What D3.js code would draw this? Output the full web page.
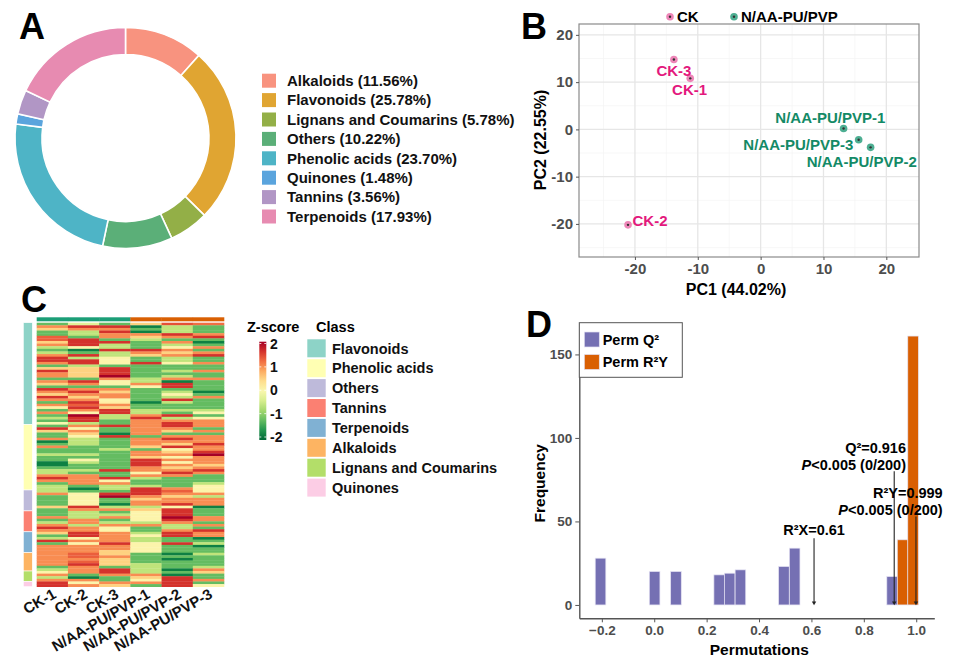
<!DOCTYPE html>
<html><head><meta charset="utf-8">
<script src="https://cdn.jsdelivr.net/npm/d3@7"></script>
<style>
body{margin:0;background:#fff;}
svg text{font-family:"Liberation Sans",Arial,Helvetica,sans-serif;font-weight:bold;}
</style></head><body>
<svg id="fig" width="955" height="667"></svg>
<script>
// ---------- Panel A data ----------
const compClasses = ["Alkaloids","Flavonoids","Lignans and Coumarins","Others","Phenolic acids","Quinones","Tannins","Terpenoids"];
const compPercent = [11.56,25.78,5.78,10.22,23.70,1.48,3.56,17.93];
const compColors = ["#F8937F","#E0A532","#93AF47","#5BAF78","#4EB4C6","#5AA4DD","#B196C5","#E78BB1"];

// ---------- Panel B data ----------
const pcaSamples = ["CK-1","CK-2","CK-3","N/AA-PU/PVP-1","N/AA-PU/PVP-2","N/AA-PU/PVP-3"];
const pcaGroup = ["CK","CK","CK","N/AA-PU/PVP","N/AA-PU/PVP","N/AA-PU/PVP"];
const pc1 = [-11.2,-21.1,-13.8,13.2,17.5,15.6];
const pc2 = [10.8,-20.2,14.8,0.2,-3.8,-2.2];
const labelPc1 = [-11.3,-17.6,-13.8,11.1,16.1,6.0];
const labelPc2 = [8.5,-19.3,12.4,2.5,-6.8,-3.3];
const pcaTicks = [-20,-10,0,10,20];
const pcaMinor = [-25,-15,-5,5,15];
const groupNames = ["CK","N/AA-PU/PVP"];
const groupText = ["#E3187D","#138A66"];
const groupFill = ["#EE86B8","#4DAE92"];

// ---------- Panel C data ----------
const hmClasses = ["Flavonoids","Phenolic acids","Others","Tannins","Terpenoids","Alkaloids","Lignans and Coumarins","Quinones"];
const hmClassColors = ["#8DD3C7","#FFFFB3","#BEBADA","#FB8072","#80B1D3","#FDB462","#B3DE69","#FCCDE5"];
const hmGroupColors = ["#1B9E77","#D95F02"];
const zTicks = [2,1,0,-1,-2];
const zFlavonoids = [
[-1.2,-0.3,-1.2,0.5,1.4,1.2],[1.0,1.6,1.6,-1.8,-0.6,-1.2],[0.5,1.0,1.0,-1.2,-0.6,-1.2],[-1.2,-0.6,1.6,-1.8,-0.6,-1.2],
[-1.2,-0.6,1.0,1.0,1.6,1.0],[1.3,-1.2,1.0,0.5,1.0,1.6],[1.3,1.6,-1.2,-0.6,-1.2,-1.2],[0.5,1.6,1.6,-1.2,1.0,-1.8],
[1.0,1.6,-0.6,-1.2,-0.6,-1.2],[-0.6,0.1,-0.6,-1.2,0.1,1.0],[-1.2,-1.8,1.6,1.6,1.0,-1.2],[-0.6,-1.2,-0.6,1.0,0.5,1.0],
[1.0,1.6,-0.6,0.5,1.0,1.6],[1.6,-0.6,0.1,-1.2,-0.6,-1.2],[1.6,1.6,0.1,-1.2,-0.6,-1.2],[1.0,1.6,0.1,1.6,0.1,1.0],
[-1.2,-0.6,-1.2,-1.2,-1.2,-1.2],[0.5,0.5,1.6,-1.2,-1.2,-1.2],[1.6,0.5,1.6,-1.2,-0.6,1.0],[1.0,0.5,1.6,-1.2,-1.2,-1.2],
[1.0,0.5,2.0,-1.2,-0.6,-1.2],[-1.2,-1.2,1.0,-0.6,1.0,1.0],[1.0,1.6,0.1,-0.6,-1.8,-1.2],[0.5,1.0,0.1,1.0,1.6,-1.2],
[-1.2,-1.2,-1.2,0.1,1.6,-1.2],[1.6,1.0,1.0,-1.2,-1.2,-1.2],[1.0,1.6,0.5,-1.2,-0.6,-1.8],[0.5,1.0,1.0,-1.2,0.1,-1.2],
[1.6,0.5,1.0,-1.2,-0.6,1.0],[1.0,1.0,0.1,-1.2,1.6,-1.2],[-1.2,1.6,0.2,-1.8,-0.6,-1.2],[1.0,1.3,1.0,-1.2,-1.2,-1.2],
[0.2,1.6,0.5,-1.2,-1.2,-1.2],[-1.2,1.0,1.6,-0.6,-0.6,-0.6],[1.0,0.1,1.6,-0.6,-1.2,0.1],[-1.2,2.0,-0.6,1.0,1.6,-1.2],
[-0.6,1.6,-0.6,1.6,-0.6,0.1],[-1.2,1.6,-1.2,1.0,1.0,1.0],[0.0,-0.6,-1.2,1.0,1.6,1.0]];
const zPhenolic = [
[-1.2,1.0,1.6,1.0,1.6,1.0],[1.6,0.1,-1.2,1.0,1.0,-1.2],[0.5,1.0,-1.2,1.0,0.5,1.0],[-1.2,0.5,-1.8,1.0,-1.2,-1.2],
[-1.2,0.1,1.6,-1.2,1.0,1.0],[1.0,-0.6,-1.2,1.0,1.6,1.0],[-1.8,-0.6,-1.2,1.0,1.0,1.0],[-1.2,-0.6,-1.2,1.0,0.5,1.6],
[1.0,-1.2,-1.2,0.5,1.6,1.0],[-1.2,-1.2,-0.6,-1.2,0.1,1.0],[-1.2,-1.2,-1.2,1.0,0.5,1.6],[-0.6,-0.6,-1.2,1.0,1.0,2.0],
[-1.2,-1.2,-1.2,0.5,0.1,1.0],[-1.2,0.1,-1.2,1.6,1.0,1.0],[-1.8,-0.6,-1.2,1.6,0.1,1.0],[-1.8,-1.2,-1.2,1.6,1.0,0.5],
[-1.2,-1.2,-1.2,1.0,0.5,1.0],[-0.6,-0.6,1.6,1.0,1.0,1.6],[-0.6,-1.2,-1.2,0.1,1.6,1.0],[1.0,1.0,-1.2,1.0,1.0,-1.2],
[1.6,1.0,1.6,-0.6,-1.2,-1.2],[1.0,1.0,0.1,-1.2,-1.2,-1.2],[-1.2,1.0,1.0,-1.2,-1.2,-0.6],[-0.6,-1.2,-0.6,-0.6,-1.2,0.1],
[-0.6,-1.8,-0.6,1.6,1.0,0.1]];
const zOthers = [
[-0.6,-1.2,-1.2,1.6,1.3,0.1],[1.0,0.1,1.6,1.6,1.0,1.0],[-1.2,0.1,2.0,1.0,0.5,-0.6],[-1.2,0.1,-1.2,0.5,1.0,1.0],
[-1.2,0.1,-1.2,1.0,1.0,1.0],[-1.2,0.1,-1.8,1.0,1.6,1.0],[0.5,1.6,-0.6,-0.6,0.1,-1.8],[-1.2,1.0,1.0,0.5,1.6,-1.2]];
const zTannins = [
[-1.2,-0.6,-1.2,0.1,1.6,-1.2],[-1.2,-0.6,-0.6,0.1,1.6,-1.2],[1.0,-0.6,1.0,0.1,2.0,1.0],[-1.2,1.0,-1.2,0.1,1.6,1.0],
[-0.6,1.0,-0.6,-0.6,1.0,-1.2],[1.0,-0.6,1.0,1.0,-0.6,1.0],[1.6,1.0,0.1,-1.2,-0.6,-1.2],[1.0,1.0,0.1,-1.2,1.0,1.6]];
const zTerpenoids = [
[0.5,1.6,1.0,-0.6,1.6,1.0],[-1.2,1.6,1.0,0.1,1.6,1.0],[-0.6,0.1,1.0,-0.6,-1.2,-1.8],[1.6,1.0,1.0,-0.6,-1.2,-1.2],
[-1.2,0.1,1.6,0.1,1.6,-0.6],[1.0,1.0,1.0,0.1,-1.2,-1.8],[1.0,1.0,1.0,0.1,-1.2,-1.2],[1.0,1.0,0.5,0.1,-1.2,-1.2]];
const zAlkaloids = [
[1.0,1.3,0.5,-1.2,-1.8,-0.6],[1.0,1.3,1.0,-1.2,-1.2,-1.2],[1.0,1.0,0.5,-1.2,-1.8,-1.2],[1.0,1.3,0.5,-1.2,-1.2,-1.2],
[1.0,1.6,0.5,-0.6,-1.2,-1.2],[-1.2,1.0,-1.2,-0.6,-1.2,-0.6],[-0.6,1.0,1.6,-0.6,-1.8,1.0]];
const zLignans = [
[0.1,1.0,1.6,-0.6,-1.2,0.5],[1.0,-1.2,1.0,1.0,-1.8,-1.2],[-0.6,-1.8,-1.2,0.5,1.6,-1.2],[1.0,1.0,-1.2,0.1,1.6,1.0]];
const zQuinones = [
[1.6,0.1,1.0,1.0,1.6,-1.2],[1.6,1.0,0.5,-1.2,1.6,0.1]];

// ---------- Panel D data ----------
const permQ2Centers = [-0.205,0.0015,0.083,0.248,0.288,0.329,0.495,0.536,0.908];
const permQ2Counts = [28,20,20,18,19,21,23,34,17];
const permR2YCenters = [0.948,0.988];
const permR2YCounts = [39,161];
const permBinWidth = 0.0405;
const permXTicks = [-0.2,0,0.2,0.4,0.6,0.8,1.0];
const permYTicks = [0,50,100,150];
const annValues = [0.61,0.916,0.999];
const annTops = [40,80,53];
const permColors = ["#7570B3","#D95F02"];

const svg = d3.select("#fig");

// panel letters
[["A",19,39],["B",521,39],["C",21,312],["D",526,337]].forEach(p=>{
  svg.append("text").attr("x",p[1]).attr("y",p[2]).attr("font-size",36).attr("fill","#000").text(p[0]);
});

// ================= Panel A =================
{
  const g = svg.append("g").attr("transform","translate(125.5,138)");
  const arcs = d3.pie().sort(null).value(d=>d)(compPercent);
  const arc = d3.arc().innerRadius(83.5).outerRadius(110.5);
  g.selectAll("path").data(arcs).join("path").attr("d",arc)
    .attr("fill",(d,i)=>compColors[i]).attr("stroke","#fff").attr("stroke-width",1.6);
  const leg = svg.append("g");
  compClasses.forEach((c,i)=>{
    const y = 80.7 + 19.4*i;
    leg.append("rect").attr("x",262).attr("y",y-7).attr("width",14).attr("height",14).attr("fill",compColors[i]);
    leg.append("text").attr("x",287).attr("y",y+5.3).attr("font-size",15).attr("fill","#111")
      .text(`${c} (${compPercent[i].toFixed(2)}%)`);
  });
}

// ================= Panel B =================
{
  const x = d3.scaleLinear().domain([-28.9,25.2]).range([579,919]);
  const y = d3.scaleLinear().domain([-27,22.3]).range([257,24]);
  const g = svg.append("g");
  g.append("rect").attr("x",579).attr("y",24).attr("width",340).attr("height",233).attr("fill","#fff");
  pcaMinor.forEach(v=>{
    g.append("line").attr("x1",x(v)).attr("x2",x(v)).attr("y1",24).attr("y2",257).attr("stroke","#F3F3F3").attr("stroke-width",0.7);
    g.append("line").attr("y1",y(v)).attr("y2",y(v)).attr("x1",579).attr("x2",919).attr("stroke","#F3F3F3").attr("stroke-width",0.7);
  });
  pcaTicks.forEach(v=>{
    g.append("line").attr("x1",x(v)).attr("x2",x(v)).attr("y1",24).attr("y2",257).attr("stroke","#E6E6E6").attr("stroke-width",1.3);
    g.append("line").attr("y1",y(v)).attr("y2",y(v)).attr("x1",579).attr("x2",919).attr("stroke","#E6E6E6").attr("stroke-width",1.3);
  });
  g.append("rect").attr("x",579).attr("y",24).attr("width",340).attr("height",233).attr("fill","none").attr("stroke","#8A8A8A").attr("stroke-width",1.2);
  const ax = g.append("g").attr("transform","translate(0,257)").call(d3.axisBottom(x).tickValues(pcaTicks).tickSize(3).tickPadding(3).tickFormat(d=>String(d)));
  const ay = g.append("g").attr("transform","translate(579,0)").call(d3.axisLeft(y).tickValues(pcaTicks).tickSize(3).tickPadding(3).tickFormat(d=>String(d)));
  [ax,ay].forEach(a=>{
    a.select(".domain").remove();
    a.selectAll("line").attr("stroke","#555");
    a.selectAll("text").attr("font-size",15).attr("fill","#4D4D4D").attr("font-family",null);
  });
  g.append("text").attr("x",736).attr("y",295).attr("text-anchor","middle").attr("font-size",16).text("PC1 (44.02%)");
  g.append("text").attr("transform","translate(546,140) rotate(-90)").attr("text-anchor","middle").attr("font-size",16).text("PC2 (22.55%)");
  // points
  pcaSamples.forEach((s,i)=>{
    const gi = groupNames.indexOf(pcaGroup[i]);
    g.append("circle").attr("cx",x(pc1[i])).attr("cy",y(pc2[i])).attr("r",3.8).attr("fill",groupFill[gi]);
    g.append("circle").attr("cx",x(pc1[i])).attr("cy",y(pc2[i])).attr("r",1.2).attr("fill","#333");
    g.append("text").attr("x",x(labelPc1[i])).attr("y",y(labelPc2[i])+5.3).attr("text-anchor","middle")
      .attr("font-size",15).attr("fill",groupText[gi]).text(s);
  });
  // legend top
  [[670,677],[734,741]].forEach((p,i)=>{
    g.append("circle").attr("cx",p[0]).attr("cy",16.7).attr("r",3.8).attr("fill",groupFill[i]);
    g.append("circle").attr("cx",p[0]).attr("cy",16.7).attr("r",1.2).attr("fill","#333");
    g.append("text").attr("x",p[1]).attr("y",22).attr("font-size",15).attr("fill","#000").text(groupNames[i]);
  });
}

// ================= Panel C =================
{
  const blocks = [zFlavonoids,zPhenolic,zOthers,zTannins,zTerpenoids,zAlkaloids,zLignans,zQuinones];
  const rows = [];
  blocks.forEach((b,ci)=>b.forEach(r=>rows.push({cls:ci,v:r})));
  const x0 = 36.7, x1 = 224, y0 = 322.7, y1 = 586.7;
  const xs = d3.scaleBand().domain(pcaSamples).range([x0,x1]);
  const ys = d3.scaleBand().domain(d3.range(rows.length)).range([y0,y1]);
  const color = d3.scaleSequential(d3.interpolateRdYlGn).domain([2,-2]);
  const g = svg.append("g");
  rows.forEach((r,ri)=>{
    r.v.forEach((v,ci)=>{
      g.append("rect").attr("x",xs(pcaSamples[ci])).attr("y",ys(ri)).attr("width",xs.bandwidth()+0.3).attr("height",ys.bandwidth()+0.3)
        .attr("fill",color(v));
    });
  });
  // top group bar
  pcaSamples.forEach((s,i)=>{
    g.append("rect").attr("x",xs(s)).attr("y",317.3).attr("width",xs.bandwidth()+0.3).attr("height",4)
      .attr("fill",hmGroupColors[groupNames.indexOf(pcaGroup[i])]);
  });
  // row annotation
  let start = 0;
  blocks.forEach((b,ci)=>{
    g.append("rect").attr("x",23.3).attr("y",ys(start)).attr("width",9).attr("height",ys.bandwidth()*b.length)
      .attr("fill",hmClassColors[ci]).attr("stroke","#fff").attr("stroke-width",0.6);
    start += b.length;
  });
  // column labels
  pcaSamples.forEach(s=>{
    const cx = xs(s)+xs.bandwidth()/2+5;
    g.append("text").attr("transform",`translate(${cx},597) rotate(-30)`).attr("text-anchor","end")
      .attr("font-size",15).attr("fill","#111").text(s);
  });
  // Z-score colorbar
  const defs = svg.append("defs");
  const grad = defs.append("linearGradient").attr("id","zgrad").attr("x1",0).attr("x2",0).attr("y1",0).attr("y2",1);
  d3.range(0,1.0001,0.1).forEach(t=>{
    grad.append("stop").attr("offset",t).attr("stop-color",color(2-4*t));
  });
  const zy = d3.scaleLinear().domain([2,-2]).range([343.5,437]);
  g.append("text").attr("x",247).attr("y",332).attr("font-size",14.5).text("Z-score");
  g.append("rect").attr("x",259.3).attr("y",341.7).attr("width",7).attr("height",98.3).attr("fill","url(#zgrad)");
  zTicks.forEach(t=>{
    g.append("line").attr("x1",259.3).attr("x2",261.3).attr("y1",zy(t)).attr("y2",zy(t)).attr("stroke","#fff").attr("stroke-width",0.8);
    g.append("line").attr("x1",264.3).attr("x2",266.3).attr("y1",zy(t)).attr("y2",zy(t)).attr("stroke","#fff").attr("stroke-width",0.8);
    g.append("text").attr("x",270).attr("y",zy(t)+5).attr("font-size",14).attr("fill","#111").text(t<0?"-"+Math.abs(t):String(t));
  });
  // Class legend
  g.append("text").attr("x",316).attr("y",332).attr("font-size",14.5).text("Class");
  hmClasses.forEach((c,i)=>{
    const cy = 348.3 + 19.9*i;
    g.append("rect").attr("x",307.3).attr("y",cy-9).attr("width",18.4).attr("height",18).attr("fill",hmClassColors[i]);
    g.append("text").attr("x",332).attr("y",cy+5.2).attr("font-size",14.5).attr("fill","#111").text(c);
  });
}

// ================= Panel D =================
{
  const x = d3.scaleLinear().domain([-0.286,1.069]).range([579.3,934.3]);
  const y = d3.scaleLinear().domain([-8,169]).range([618.3,322.7]);
  const g = svg.append("g");
  const drawBars = (centers,counts,col)=>{
    centers.forEach((c,i)=>{
      g.append("rect").attr("x",x(c-permBinWidth/2)).attr("y",y(counts[i]))
        .attr("width",x(c+permBinWidth/2)-x(c-permBinWidth/2)).attr("height",y(0)-y(counts[i]))
        .attr("fill",col).attr("stroke","#E4E2F2").attr("stroke-width",0.7);
    });
  };
  drawBars(permQ2Centers,permQ2Counts,permColors[0]);
  drawBars(permR2YCenters,permR2YCounts,permColors[1]);
  // arrows
  annValues.forEach((v,i)=>{
    g.append("line").attr("x1",x(v)).attr("x2",x(v)).attr("y1",y(annTops[i])).attr("y2",y(0)-3)
      .attr("stroke","#222").attr("stroke-width",1.1);
    g.append("path").attr("d",`M${x(v)-2.2},${y(0)-3.5} L${x(v)+2.2},${y(0)-3.5} L${x(v)},${y(0)+0.3} Z`).attr("fill","#222");
  });
  const t1 = g.append("text").attr("x",x(annValues[0])).attr("y",y(annTops[0])-3).attr("text-anchor","middle").attr("font-size",14.5).text("R²X=0.61");
  g.append("text").attr("x",906).attr("y",453).attr("text-anchor","end").attr("font-size",14.5).text("Q²=0.916");
  const p1 = g.append("text").attr("x",906).attr("y",470).attr("text-anchor","end").attr("font-size",14.5);
  p1.append("tspan").attr("font-style","italic").text("P");
  p1.append("tspan").text("<0.005 (0/200)");
  g.append("text").attr("x",942.7).attr("y",498).attr("text-anchor","end").attr("font-size",14.5).text("R²Y=0.999");
  const p2 = g.append("text").attr("x",942.7).attr("y",514.5).attr("text-anchor","end").attr("font-size",14.5);
  p2.append("tspan").attr("font-style","italic").text("P");
  p2.append("tspan").text("<0.005 (0/200)");
  // axes
  const ax = g.append("g").attr("transform","translate(0,618.3)").call(d3.axisBottom(x).tickValues(permXTicks).tickSize(4).tickSizeOuter(0).tickPadding(3).tickFormat(d3.format(".1f")));
  const ay = g.append("g").attr("transform","translate(579.3,0)").call(d3.axisLeft(y).tickValues(permYTicks).tickSize(4).tickSizeOuter(0).tickPadding(3));
  [ax,ay].forEach(a=>{
    a.select(".domain").attr("stroke","#555").attr("stroke-width",1.4);
    a.selectAll("line").attr("stroke","#555");
    a.selectAll("text").attr("font-size",13.5).attr("fill","#4D4D4D").attr("font-family",null);
  });
  g.append("text").attr("x",759.3).attr("y",655).attr("text-anchor","middle").attr("font-size",15.5).text("Permutations");
  g.append("text").attr("transform","translate(545,483.3) rotate(-90)").attr("text-anchor","middle").attr("font-size",15.5).text("Frequency");
  // legend
  g.append("rect").attr("x",579.3).attr("y",322.7).attr("width",103).attr("height",54.6).attr("fill","#fff").attr("stroke","#555").attr("stroke-width",1);
  const labs = ["Perm Q²","Perm R²Y"];
  labs.forEach((l,i)=>{
    const cy = 339.5 + 22.5*i;
    g.append("rect").attr("x",584.3).attr("y",cy-7.5).attr("width",15).attr("height",15).attr("fill",permColors[i]).attr("stroke","#E4E2F2").attr("stroke-width",0.7);
    g.append("text").attr("x",602.7).attr("y",cy+5).attr("font-size",14.5).text(l);
  });
}
</script>
</body></html>
